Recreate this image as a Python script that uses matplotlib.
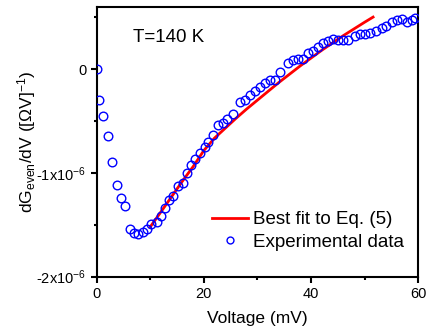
import numpy as np
import matplotlib
matplotlib.use("Agg")
import matplotlib.pyplot as plt
from matplotlib.ticker import MultipleLocator, FuncFormatter

plt.rcParams['font.family'] = ['Liberation Sans', 'DejaVu Sans']
plt.rcParams['mathtext.fontset'] = 'custom'
plt.rcParams['mathtext.rm'] = 'Liberation Sans'
plt.rcParams['mathtext.it'] = 'Liberation Sans'
plt.rcParams['mathtext.default'] = 'regular'

# experimental data: voltage (mV), dG_even/dV (units of 1e-6)
v_exp = [0.0, 0.5, 1.2, 2.05, 2.9, 3.7, 4.5, 5.3, 6.2, 7.0, 7.8, 8.7, 9.45,
         10.2, 11.2, 11.95, 12.75, 13.55, 14.3, 15.2, 16.05, 16.8, 17.55,
         18.35, 19.3, 20.2, 20.85, 21.8, 22.7, 23.5, 24.4, 25.4, 26.8, 27.7,
         28.6, 29.6, 30.5, 31.4, 32.4, 33.3, 34.3, 35.8, 36.7, 37.6, 38.6,
         39.5, 40.4, 41.4, 42.3, 43.2, 44.2, 45.1, 46.0, 46.9, 48.2, 49.2,
         50.1, 51.0, 52.2, 53.2, 54.1, 55.1, 56.0, 57.0, 57.9, 58.8, 59.4]
g_exp = [0.0, -0.30, -0.45, -0.645, -0.90, -1.12, -1.24, -1.32, -1.54, -1.575,
         -1.585, -1.565, -1.54, -1.495, -1.47, -1.415, -1.34, -1.26, -1.22,
         -1.13, -1.095, -1.00, -0.924, -0.87, -0.805, -0.75, -0.70, -0.635,
         -0.54, -0.523, -0.48, -0.436, -0.315, -0.30, -0.25, -0.21, -0.17,
         -0.138, -0.106, -0.106, -0.03, 0.055, 0.087, 0.10, 0.10, 0.15, 0.176,
         0.215, 0.247, 0.272, 0.286, 0.28, 0.28, 0.28, 0.318, 0.337, 0.337,
         0.35, 0.37, 0.395, 0.417, 0.455, 0.47, 0.48, 0.455, 0.47, 0.49]

# best fit curve
v_fit = [10, 12, 14, 16, 18, 20, 22, 24, 26, 28, 30, 32, 34, 36, 38, 40,
         42, 44, 46, 48, 50, 51.6]
g_fit = [-1.52, -1.375, -1.228, -1.08, -0.94, -0.785, -0.665, -0.57, -0.475,
         -0.385, -0.30, -0.215, -0.13, -0.05, 0.03, 0.105, 0.18, 0.25, 0.32,
         0.385, 0.45, 0.50]

fig = plt.figure(figsize=(4.31, 3.32), dpi=100)
ax = fig.add_axes([0.2244, 0.1666, 0.7456, 0.8132])

ax.plot(v_fit, np.array(g_fit) * 1e-6, color="red", lw=2, label="Best fit to Eq. (5)", zorder=2)
ax.plot(v_exp, np.array(g_exp) * 1e-6, "o", mfc="none", mec="blue", ms=6.2, mew=1,
        label="Experimental data", zorder=3)

ax.set_xlim(0, 60)
ax.set_ylim(-2e-6, 0.6e-6)
ax.xaxis.set_major_locator(MultipleLocator(20))
ax.xaxis.set_minor_locator(MultipleLocator(10))
ax.yaxis.set_major_locator(MultipleLocator(1e-6))
ax.yaxis.set_minor_locator(MultipleLocator(0.5e-6))

def yfmt(v, pos):
    n = int(round(v / 1e-6))
    if n == 0:
        return "0"
    return "%dx10$^{-6}$" % n

ax.yaxis.set_major_formatter(FuncFormatter(yfmt))
ax.tick_params(which="both", direction="out", width=1.5, labelsize=10.5)
ax.tick_params(which="major", length=4)
ax.tick_params(which="minor", length=2.5)
for s in ax.spines.values():
    s.set_linewidth(1.5)

ax.set_xlabel("Voltage (mV)", fontsize=12.5, labelpad=7)
ax.set_ylabel(r"dG$_{even}$/dV ([$\Omega$V]$^{-1}$)", fontsize=12.5, labelpad=-1.5)

ax.text(0.113, 0.886, "T=140 K", transform=ax.transAxes, fontsize=13.5, va="center")

ax.legend(loc="lower right", bbox_to_anchor=(0.98, 0.068), frameon=False, fontsize=13.5,
          handlelength=1.9, handletextpad=0.3, labelspacing=0.3, markerscale=0.8,
          borderaxespad=0)

plt.savefig("out.png", dpi=100)
